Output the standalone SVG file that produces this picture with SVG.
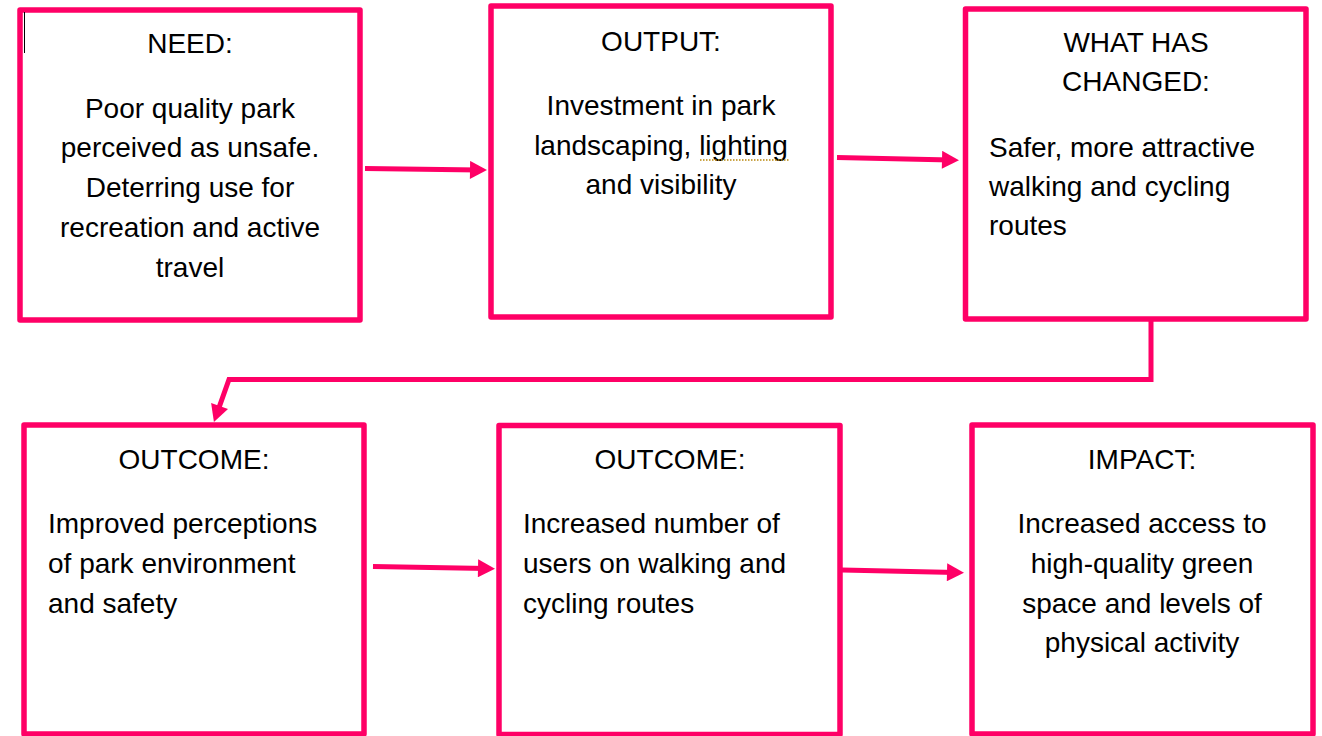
<svg xmlns="http://www.w3.org/2000/svg" width="1322" height="736" viewBox="0 0 1322 736">
<style>
.box{fill:#ffffff;stroke:#ff0066;stroke-width:5.5;stroke-linejoin:round}
.t{font-family:"Liberation Sans",Arial,sans-serif;font-size:28px;fill:#000000}
.c{text-anchor:middle}
.conn{fill:none;stroke:#ff0066;stroke-width:5;stroke-linejoin:miter}
</style>
<defs>
<marker id="ah" markerUnits="userSpaceOnUse" markerWidth="18" markerHeight="18" refX="9" refY="9" orient="auto" viewBox="0 0 17 18">
<path d="M0,0 L17,9 L0,18 z" fill="#ff0066"/>
</marker>
</defs>
<rect width="1322" height="736" fill="#ffffff"/>
<g id="need">
<rect class="box" x="20" y="10" width="340" height="310"/>
<text class="t c" x="190" y="53">NEED:</text>
<text class="t c" x="190" y="118">Poor quality park</text>
<text class="t c" x="190" y="157">perceived as unsafe.</text>
<text class="t c" x="190" y="197">Deterring use for</text>
<text class="t c" x="190" y="237">recreation and active</text>
<text class="t c" x="190" y="277">travel</text>
</g>
<line x1="24.5" y1="12" x2="24.5" y2="53" stroke="#000000" stroke-width="1"/>
<g id="output">
<rect class="box" x="491" y="6" width="340" height="311"/>
<text class="t c" x="661" y="51">OUTPUT:</text>
<text class="t c" x="661" y="115">Investment in park</text>
<text class="t c" x="661" y="155">landscaping, lighting</text>
<text class="t c" x="661" y="194">and visibility</text>
<line x1="700" y1="160" x2="790" y2="160" stroke="#b8860b" stroke-width="1.5" stroke-dasharray="1.5,1.5"/>
</g>
<g id="changed">
<rect class="box" x="965.5" y="9" width="340.5" height="310"/>
<text class="t c" x="1136" y="52">WHAT HAS</text>
<text class="t c" x="1136" y="91">CHANGED:</text>
<text class="t" x="989" y="157">Safer, more attractive</text>
<text class="t" x="989" y="196">walking and cycling</text>
<text class="t" x="989" y="235">routes</text>
</g>
<g id="outcome1">
<rect class="box" x="24" y="425" width="340" height="309"/>
<text class="t c" x="194" y="469">OUTCOME:</text>
<text class="t" x="48" y="533">Improved perceptions</text>
<text class="t" x="48" y="573">of park environment</text>
<text class="t" x="48" y="612.5">and safety</text>
</g>
<g id="outcome2">
<rect class="box" x="499" y="425.5" width="341" height="309"/>
<text class="t c" x="670" y="469">OUTCOME:</text>
<text class="t" x="523" y="533">Increased number of</text>
<text class="t" x="523" y="573">users on walking and</text>
<text class="t" x="523" y="612.5">cycling routes</text>
</g>
<g id="impact">
<rect class="box" x="972" y="425" width="341" height="309"/>
<text class="t c" x="1142" y="469">IMPACT:</text>
<text class="t c" x="1142" y="533">Increased access to</text>
<text class="t c" x="1142" y="573">high-quality green</text>
<text class="t c" x="1142" y="613">space and levels of</text>
<text class="t c" x="1142" y="652">physical activity</text>
</g>
<g id="connectors">
<path class="conn" d="M365,168.5 L479,170" marker-end="url(#ah)"/>
<path class="conn" d="M837,157.5 L951,160" marker-end="url(#ah)"/>
<path class="conn" d="M1151,319 V379.5 H229 L216.6,414.4" marker-end="url(#ah)"/>
<path class="conn" d="M373,566.5 L487,568.5" marker-end="url(#ah)"/>
<path class="conn" d="M842,570 L956,572.5" marker-end="url(#ah)"/>
</g>
</svg>
